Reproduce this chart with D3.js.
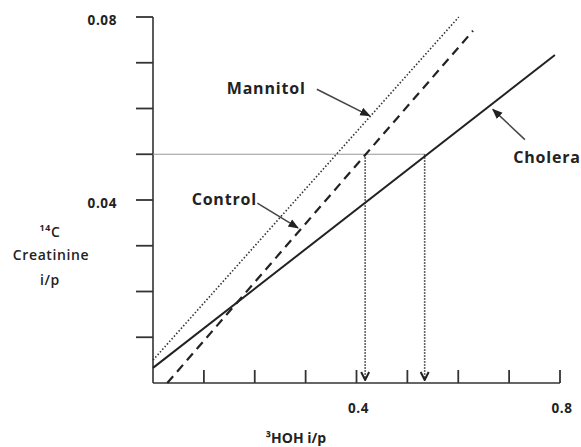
<!DOCTYPE html>
<html>
<head>
<meta charset="utf-8">
<script src="https://cdn.jsdelivr.net/npm/d3@7"></script>
<style>
  body { margin: 0; background: #fff; }
  svg text { font-family: "Open Sans", "DejaVu Sans", sans-serif; fill: #222; }
</style>
</head>
<body>
<div id="chart"></div>
<script>
// values
const xTicks = [0.1, 0.2, 0.3, 0.4, 0.5, 0.6, 0.7, 0.8];
const xTickLabels = [0.4, 0.8];
const yTicks = [0.01, 0.02, 0.03, 0.04, 0.05, 0.06, 0.07, 0.08];
const yTickLabels = [0.04, 0.08];

const cholera = [[0, 0.0033], [0.79, 0.0717]];
const control = [[0.028, 0], [0.629, 0.077]];
const mannitol = [[0, 0.005], [0.601, 0.080]];

const refLevel = 0.05;
const dropX = [0.417, 0.534]; // control / cholera at refLevel

const labels = [
    { name: 'Mannitol', tx: 0.145, ty: 0.0632, from: [0.322, 0.0642], to: [0.426, 0.0584] },
    { name: 'Control',  tx: 0.076, ty: 0.0389, from: [0.205, 0.0393], to: [0.285, 0.0339] },
    { name: 'Cholera',  tx: 0.708, ty: 0.0481, from: [0.731, 0.0532], to: [0.668, 0.0598] }
];

const W = 581, H = 447;
const margin = { left: 153, top: 17 };
const w = 407, h = 366;

const svg = d3.select('#chart').append('svg').attr('width', W).attr('height', H);

const defs = svg.append('defs');
defs.append('marker').attr('id', 'head').attr('viewBox', '0 0 10 10')
    .attr('refX', 9).attr('refY', 5).attr('markerWidth', 7).attr('markerHeight', 7)
    .attr('orient', 'auto')
    .append('path').attr('d', 'M0,1 L10,5 L0,9 Z').attr('fill', '#222');
defs.append('marker').attr('id', 'vhead').attr('viewBox', '0 0 10 10')
    .attr('refX', 9).attr('refY', 5).attr('markerWidth', 10).attr('markerHeight', 10)
    .attr('markerUnits', 'userSpaceOnUse')
    .attr('orient', 'auto')
    .append('path').attr('d', 'M1,1 L9,5 L1,9').attr('fill', 'none')
    .attr('stroke', '#222').attr('stroke-width', 2);

const g = svg.append('g').attr('transform', 'translate(' + margin.left + ',' + margin.top + ')');

let x = d3.scaleLinear().domain([0, 0.8]).range([0, w]),
    y = d3.scaleLinear().domain([0, 0.08]).range([h, 0]);

// axes
g.append('line').attr('x1', 0).attr('x2', 0).attr('y1', 0).attr('y2', h)
    .attr('stroke', '#333').attr('stroke-width', 1.6);
g.append('line').attr('x1', 0).attr('x2', w).attr('y1', h).attr('y2', h)
    .attr('stroke', '#333').attr('stroke-width', 1.6);

g.selectAll('.ytick').data(yTicks).enter().append('line').attr('class', 'ytick')
    .attr('x1', -17).attr('x2', 0)
    .attr('y1', (d) => y(d)).attr('y2', (d) => y(d))
    .attr('stroke', '#333').attr('stroke-width', 1.8);

g.selectAll('.xtick').data(xTicks).enter().append('line').attr('class', 'xtick')
    .attr('x1', (d) => x(d)).attr('x2', (d) => x(d))
    .attr('y1', h - 13).attr('y2', h)
    .attr('stroke', '#333').attr('stroke-width', 1.8);

g.selectAll('.ylab').data(yTickLabels).enter().append('text').attr('class', 'ylab')
    .attr('x', -36).attr('y', (d) => y(d) + 8)
    .attr('text-anchor', 'end').attr('font-size', 13.5).attr('font-weight', 700)
    .attr('letter-spacing', 0.6)
    .text((d) => d3.format('.2f')(d));

g.selectAll('.xlab').data(xTickLabels).enter().append('text').attr('class', 'xlab')
    .attr('x', (d) => x(d) + 2).attr('y', h + 30)
    .attr('text-anchor', 'middle').attr('font-size', 13.5).attr('font-weight', 700)
    .attr('letter-spacing', 0.6)
    .text((d) => d3.format('.1f')(d));

// axis titles
const yt = svg.append('text').attr('text-anchor', 'middle').attr('font-size', 14).attr('font-weight', 600)
    .attr('letter-spacing', 0.6);
yt.append('tspan').attr('x', 50).attr('y', 237).text('¹⁴C');
yt.append('tspan').attr('x', 51).attr('y', 260).text('Creatinine');
yt.append('tspan').attr('x', 50).attr('y', 285).text('i/p');

svg.append('text').attr('x', 296).attr('y', 443).attr('text-anchor', 'middle')
    .attr('font-size', 14).attr('font-weight', 700).text('³HOH i/p');

// reference level and drop lines
g.append('line').attr('x1', 0).attr('x2', x(dropX[1]))
    .attr('y1', y(refLevel)).attr('y2', y(refLevel))
    .attr('stroke', '#999').attr('stroke-width', 1.2);

g.selectAll('.drop').data(dropX).enter().append('line').attr('class', 'drop')
    .attr('x1', (d) => x(d)).attr('x2', (d) => x(d))
    .attr('y1', y(refLevel)).attr('y2', h - 3)
    .attr('stroke', '#333').attr('stroke-width', 1.6).attr('stroke-dasharray', '1.5,1.5')
    .attr('marker-end', 'url(#vhead)');

// series lines
let line = d3.line()
    .x(function(d) { return x(d[0]); })
    .y(function(d) { return y(d[1]); });

g.append('path').attr('d', line(mannitol)).attr('fill', 'none')
    .attr('stroke', '#333').attr('stroke-width', 1.6).attr('stroke-dasharray', '1.5,2');
g.append('path').attr('d', line(control)).attr('fill', 'none')
    .attr('stroke', '#222').attr('stroke-width', 2.2).attr('stroke-dasharray', '9,6');
g.append('path').attr('d', line(cholera)).attr('fill', 'none')
    .attr('stroke', '#222').attr('stroke-width', 2);

// labels with arrows
labels.forEach((l) => {
    g.append('text').attr('x', x(l.tx)).attr('y', y(l.ty))
        .attr('font-size', 16).attr('font-weight', 700).attr('letter-spacing', 0.8).text(l.name);
    g.append('line')
        .attr('x1', x(l.from[0])).attr('y1', y(l.from[1]))
        .attr('x2', x(l.to[0])).attr('y2', y(l.to[1]))
        .attr('stroke', '#444').attr('stroke-width', 1.5)
        .attr('marker-end', 'url(#head)');
});
</script>
</body>
</html>
